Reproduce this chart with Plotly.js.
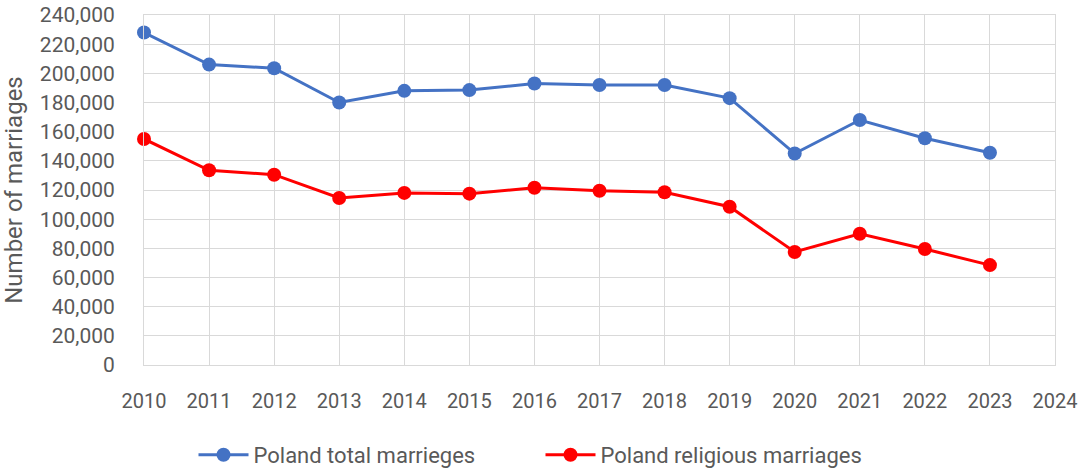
<!DOCTYPE html>
<html>
<head>
<meta charset="utf-8">
<script src="https://cdn.plot.ly/plotly-3.0.1.min.js"></script>
<style>html,body{margin:0;padding:0;background:#fff;}#chart{width:1081px;height:471px;}</style>
</head>
<body>
<div id="chart"></div>
<script>
const years = [2010, 2011, 2012, 2013, 2014, 2015, 2016, 2017, 2018, 2019, 2020, 2021, 2022, 2023];
const totalMarriages = [228000, 206000, 203500, 180000, 188000, 188500, 193000, 192000, 192000, 183000, 145000, 168000, 155500, 145500];
const religiousMarriages = [155000, 133500, 130500, 114500, 118000, 117500, 121500, 119500, 118500, 108500, 77500, 90000, 79500, 68500];
const seriesNames = ["Poland total marrieges", "Poland religious marriages"];
const yTickVals = [0, 20000, 40000, 60000, 80000, 100000, 120000, 140000, 160000, 180000, 200000, 220000, 240000];

const fontFam = "'Liberation Sans Narrow', Roboto, sans-serif";
const textColor = "#595959";

const traces = [
  {x: years, y: totalMarriages, name: seriesNames[0], type: "scatter", mode: "lines+markers", cliponaxis: false,
   line: {color: "#4472C4", width: 3}, marker: {color: "#4472C4", size: 14}},
  {x: years, y: religiousMarriages, name: seriesNames[1], type: "scatter", mode: "lines+markers", cliponaxis: false,
   line: {color: "#FF0000", width: 3}, marker: {color: "#FF0000", size: 14}}
];

const layout = {
  width: 1081, height: 471,
  margin: {l: 144, r: 26, t: 15, b: 106, autoexpand: false},
  paper_bgcolor: "#fff", plot_bgcolor: "#fff",
  font: {family: fontFam, color: textColor, size: 20},
  showlegend: true,
  legend: {orientation: "h", xref: "container", yref: "container", x: 0.5, xanchor: "center", y: 0.034, yanchor: "middle",
           font: {size: 22, color: textColor}, itemwidth: 50, entrywidth: 282, entrywidthmode: "pixels", tracegroupgap: 0},
  xaxis: {range: [2010, 2024], dtick: 1, tick0: 2010, tickangle: 0, automargin: false, showgrid: true, gridcolor: "#D9D9D9", gridwidth: 1,
          zeroline: false, showline: true, linecolor: "#D9D9D9", linewidth: 1, mirror: true,
          ticks: "outside", ticklen: 18, tickcolor: "rgba(0,0,0,0)", tickfont: {size: 20, color: textColor}},
  yaxis: {range: [0, 240000], tickvals: yTickVals, tickformat: ",", automargin: false, showgrid: true, gridcolor: "#D9D9D9", gridwidth: 1,
          zeroline: false, showline: true, linecolor: "#D9D9D9", linewidth: 1, mirror: true,
          ticks: "outside", ticklen: 24, tickcolor: "rgba(0,0,0,0)", tickfont: {size: 21, color: textColor},
          title: {text: "Number of marriages", font: {size: 24, color: textColor}, standoff: 10}}
};

Plotly.newPlot("chart", traces, layout, {displayModeBar: false, staticPlot: true});
</script>
</body>
</html>
